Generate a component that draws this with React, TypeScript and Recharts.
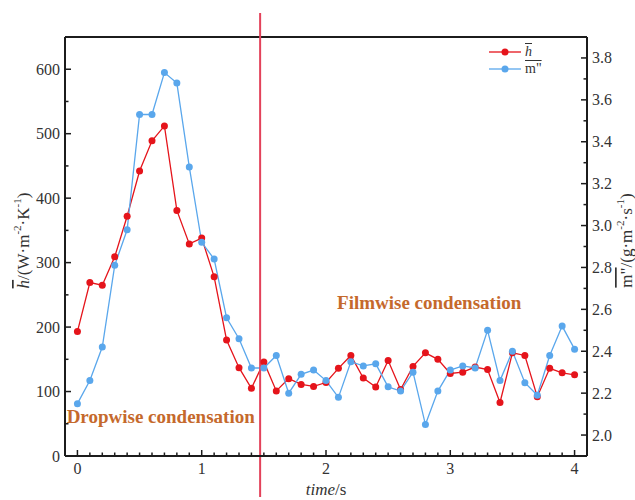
import React from 'react';
import { ComposedChart, Line, XAxis, YAxis, ReferenceLine, ReferenceDot, Legend } from 'recharts';

const times = [0, 0.1, 0.2, 0.3, 0.4, 0.5, 0.6, 0.7, 0.8, 0.9, 1.0, 1.1, 1.2, 1.3, 1.4, 1.5, 1.6, 1.7, 1.8, 1.9, 2.0,
  2.1, 2.2, 2.3, 2.4, 2.5, 2.6, 2.7, 2.8, 2.9, 3.0, 3.1, 3.2, 3.3, 3.4, 3.5, 3.6, 3.7, 3.8, 3.9, 4.0];
const hValues = [193, 269, 265, 309, 372, 442, 489, 512, 381, 329, 338, 278, 180, 137, 105, 146, 101, 120, 111, 108, 114,
  136, 156, 121, 107, 148, 103, 139, 160, 150, 128, 130, 138, 134, 83, 160, 156, 92, 136, 129, 126];
const mValues = [2.15, 2.26, 2.42, 2.81, 2.98, 3.53, 3.53, 3.73, 3.68, 3.28, 2.92, 2.84, 2.56, 2.46, 2.32, 2.32, 2.38, 2.20, 2.29, 2.31, 2.26,
  2.18, 2.35, 2.33, 2.34, 2.23, 2.21, 2.30, 2.05, 2.21, 2.31, 2.33, 2.32, 2.50, 2.26, 2.40, 2.25, 2.19, 2.38, 2.52, 2.41];

const xTicks = [0, 0.1, 0.2, 0.3, 0.4, 0.5, 0.6, 0.7, 0.8, 0.9, 1, 1.1, 1.2, 1.3, 1.4, 1.5, 1.6, 1.7, 1.8, 1.9, 2,
  2.1, 2.2, 2.3, 2.4, 2.5, 2.6, 2.7, 2.8, 2.9, 3, 3.1, 3.2, 3.3, 3.4, 3.5, 3.6, 3.7, 3.8, 3.9, 4];
const xLabels = [0, 1, 2, 3, 4];
const hTicks = [0, 50, 100, 150, 200, 250, 300, 350, 400, 450, 500, 550, 600];
const hLabels = [0, 100, 200, 300, 400, 500, 600];
const mTicks = [2.0, 2.1, 2.2, 2.3, 2.4, 2.5, 2.6, 2.7, 2.8, 2.9, 3.0, 3.1, 3.2, 3.3, 3.4, 3.5, 3.6, 3.7, 3.8];
const mLabels = [2.0, 2.2, 2.4, 2.6, 2.8, 3.0, 3.2, 3.4, 3.6, 3.8];

const transitionTime = 1.47;
const dropwiseAt = { x: 0.67, y: 62 };
const filmwiseAt = { x: 2.83, y: 238 };

const data = times.map((t, i) => ({ t, h: hValues[i], m: mValues[i] }));

const FONT = "'Liberation Serif', 'Times New Roman', serif";
const RED = '#E5141B';
const BLUE = '#5AA7EC';
const AXIS = '#1c1c1c';
const TEXT = '#333333';
const ANNOT = '#C5692C';

const isLabel = (v: number, list: number[]) => list.some((l) => Math.abs(l - v) < 1e-6);

const XTick = (props: any) => {
  const { x, y, payload } = props;
  const major = isLabel(payload.value, xLabels);
  return (
    <g>
      <line x1={x} x2={x} y1={y} y2={y - (major ? 6 : 3.5)} stroke={AXIS} strokeWidth={1.5} />
      {major && (
        <text x={x} y={y + 17.5} textAnchor="middle" fontFamily={FONT} fontSize={16} fill={TEXT}>
          {payload.value}
        </text>
      )}
    </g>
  );
};

const HTick = (props: any) => {
  const { x, y, payload } = props;
  const major = isLabel(payload.value, hLabels);
  return (
    <g>
      <line x1={x} x2={x + (major ? 6 : 3.5)} y1={y} y2={y} stroke={AXIS} strokeWidth={1.5} />
      {major && (
        <text x={x - 5} y={y + 5.5} textAnchor="end" fontFamily={FONT} fontSize={16} fill={TEXT}>
          {payload.value}
        </text>
      )}
    </g>
  );
};

const MTick = (props: any) => {
  const { x, y, payload } = props;
  const major = isLabel(payload.value, mLabels);
  return (
    <g>
      <line x1={x} x2={x - (major ? 6 : 3.5)} y1={y} y2={y} stroke={AXIS} strokeWidth={1.5} />
      {major && (
        <text x={x + 5} y={y + 5.5} textAnchor="start" fontFamily={FONT} fontSize={16} fill={TEXT}>
          {Number(payload.value).toFixed(1)}
        </text>
      )}
    </g>
  );
};

const LeftLabel = (props: any) => {
  const vb = props.viewBox || { x: 0, y: 37, width: 65, height: 419 };
  const cx = vb.x + 23;
  const cy = vb.y + vb.height / 2 - 6;
  return (
    <text x={cx} y={cy} transform={`rotate(-90 ${cx} ${cy})`} textAnchor="middle" dominantBaseline="central"
      fontFamily={FONT} fontSize={17} fill={TEXT}>
      <tspan fontStyle="italic" style={{ textDecoration: 'overline' }}>h</tspan>
      <tspan>/(W·m</tspan>
      <tspan dy={-6} fontSize={11}>-2</tspan>
      <tspan dy={6}>·K</tspan>
      <tspan dy={-6} fontSize={11}>-1</tspan>
      <tspan dy={6}>)</tspan>
    </text>
  );
};

const RightLabel = (props: any) => {
  const vb = props.viewBox || { x: 587, y: 37, width: 48, height: 419 };
  const cx = vb.x + 39;
  const cy = vb.y + vb.height / 2 - 6;
  return (
    <text x={cx} y={cy} transform={`rotate(-90 ${cx} ${cy})`} textAnchor="middle" dominantBaseline="central"
      fontFamily={FONT} fontSize={17} fill={TEXT}>
      <tspan style={{ textDecoration: 'overline' }}>m"</tspan>
      <tspan>/(g·m</tspan>
      <tspan dy={-6} fontSize={11}>-2</tspan>
      <tspan dy={6}>·s</tspan>
      <tspan dy={-6} fontSize={11}>-1</tspan>
      <tspan dy={6}>)</tspan>
    </text>
  );
};

const BottomLabel = (props: any) => {
  const vb = props.viewBox || { x: 65, y: 456, width: 522, height: 44 };
  const cx = vb.x + vb.width / 2;
  const cy = vb.y + 39;
  return (
    <text x={cx} y={cy} textAnchor="middle" fontFamily={FONT} fontSize={17} fill={TEXT}>
      <tspan fontStyle="italic">time</tspan>
      <tspan>/s</tspan>
    </text>
  );
};

const LegendContent = (props: any) => {
  const items = props.payload || [];
  return (
    <div style={{ fontFamily: FONT, fontSize: 14, color: TEXT }}>
      {items.map((it: any) => (
        <div key={it.value} style={{ display: 'flex', alignItems: 'center', height: 17 }}>
          <svg width={34} height={12} style={{ display: 'block' }}>
            <line x1={1} x2={33} y1={6} y2={6} stroke={it.color} strokeWidth={1.3} />
            <circle cx={17} cy={6} r={3.5} fill={it.color} />
          </svg>
          <span style={{ textDecoration: 'overline', fontStyle: it.value === 'h' ? 'italic' : 'normal', marginLeft: 3, lineHeight: '14px' }}>
            {it.value}
          </span>
        </div>
      ))}
    </div>
  );
};

const ExtendedLine = (props: any) => {
  const { x1, y1, x2, y2 } = props;
  return <line x1={x1} x2={x2} y1={Math.min(y1, y2) - 24} y2={Math.max(y1, y2) + 41} stroke="#E3425A" strokeWidth={2} />;
};

const AnnotText = (text: string) => (props: any) => (
  <text x={props.cx} y={props.cy} textAnchor="middle" dominantBaseline="central" fontFamily={FONT}
    fontSize={19} fontWeight="bold" fill={ANNOT}>
    {text}
  </text>
);

export default function App() {
  return (
    <div style={{ position: 'absolute', left: 0, top: 0, width: 635, height: 500, background: '#fff' }}>
      <ComposedChart width={635} height={500} data={data} margin={{ top: 37, right: 0, bottom: 0, left: 0 }}>
        <XAxis dataKey="t" type="number" domain={[-0.1, 4.1]} ticks={xTicks} interval={0} height={44}
          tickSize={0} tickMargin={0} tickLine={false} tick={<XTick />}
          axisLine={{ stroke: AXIS, strokeWidth: 2 }} label={BottomLabel} />
        <YAxis yAxisId="left" orientation="left" domain={[0, 650]} ticks={hTicks} interval={0} width={65}
          tickSize={0} tickMargin={0} tickLine={false} tick={<HTick />}
          axisLine={{ stroke: AXIS, strokeWidth: 2 }} label={LeftLabel} />
        <YAxis yAxisId="right" orientation="right" domain={[1.9, 3.9]} ticks={mTicks} interval={0} width={48}
          tickSize={0} tickMargin={0} tickLine={false} tick={<MTick />}
          axisLine={{ stroke: AXIS, strokeWidth: 2 }} label={RightLabel} />
        <ReferenceLine yAxisId="left" y={650} stroke={AXIS} strokeWidth={2} />
        <Line yAxisId="left" dataKey="h" name="h" stroke={RED} strokeWidth={1.3}
          dot={{ r: 3.5, fill: RED, stroke: RED, strokeWidth: 0 }} activeDot={false} isAnimationActive={false} />
        <Line yAxisId="right" dataKey="m" name={'m"'} stroke={BLUE} strokeWidth={1.3}
          dot={{ r: 3.5, fill: BLUE, stroke: BLUE, strokeWidth: 0 }} activeDot={false} isAnimationActive={false} />
        <ReferenceLine yAxisId="left" x={transitionTime} shape={ExtendedLine} />
        <ReferenceDot yAxisId="left" x={dropwiseAt.x} y={dropwiseAt.y} r={0} shape={AnnotText('Dropwise condensation')} />
        <ReferenceDot yAxisId="left" x={filmwiseAt.x} y={filmwiseAt.y} r={0} shape={AnnotText('Filmwise condensation')} />
        <Legend layout="horizontal" verticalAlign="middle" align="center" content={LegendContent}
          wrapperStyle={{ position: 'absolute', top: 43, left: 488, width: 80, height: 36 }} />
      </ComposedChart>
    </div>
  );
}
